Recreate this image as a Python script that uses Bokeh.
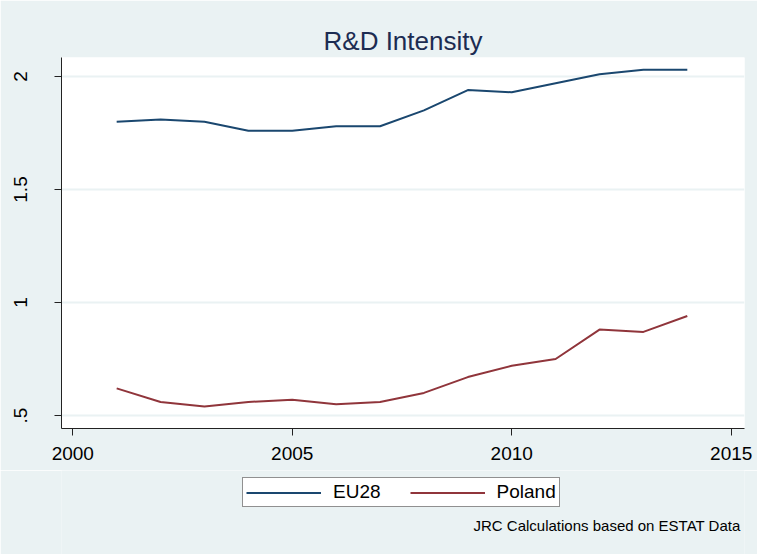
from bokeh.plotting import figure
from bokeh.models import Range1d, FixedTicker, Legend, LegendItem, Label
from bokeh.layouts import column
from bokeh.embed import file_html
from bokeh.resources import INLINE

years = [2001, 2002, 2003, 2004, 2005, 2006, 2007, 2008, 2009, 2010, 2011, 2012, 2013, 2014]
eu28 = [1.80, 1.81, 1.80, 1.76, 1.76, 1.78, 1.78, 1.85, 1.94, 1.93, 1.97, 2.01, 2.03, 2.03]
poland = [0.62, 0.56, 0.54, 0.56, 0.57, 0.55, 0.56, 0.60, 0.67, 0.72, 0.75, 0.88, 0.87, 0.94]
x_ticks = [2000, 2005, 2010, 2015]
y_ticks = [0.5, 1.0, 1.5, 2.0]
y_tick_labels = {0.5: ".5", 1.0: "1", 1.5: "1.5", 2.0: "2"}
series_names = ["EU28", "Poland"]
series_colors = ["#1A476F", "#90353B"]
title_text = "R&D Intensity"
note_text = "JRC Calculations based on ESTAT Data"

BG = "#EAF2F3"
FONT = "Liberation Sans"
W = 757
LEFT, RIGHT = 61, 13

# ---- main chart ----
p = figure(width=W, height=470, output_backend="svg", toolbar_location=None,
           x_range=Range1d(1999.743, 2015.303), y_range=Range1d(0.4425, 2.084),
           min_border_left=LEFT, min_border_right=RIGHT, min_border_top=57, min_border_bottom=42)

p.background_fill_color = "white"
p.border_fill_color = BG
p.outline_line_color = None

p.title.text = title_text
p.title.align = "center"
p.title.text_font = FONT
p.title.text_font_size = "26px"
p.title.text_font_style = "normal"
p.title.text_color = "#1C2C52"
p.title.standoff = 4

p.line(years, eu28, line_color=series_colors[0], line_width=2)
p.line(years, poland, line_color=series_colors[1], line_width=2)

for ax in (p.xaxis[0], p.yaxis[0]):
    ax.axis_line_color = "#222222"
    ax.major_tick_line_color = "#222222"
    ax.minor_tick_line_color = None
    ax.major_tick_in = 0
    ax.major_tick_out = 7
    ax.major_label_text_font = FONT
    ax.major_label_text_font_size = "19px"
    ax.major_label_text_color = "black"

p.xaxis.ticker = FixedTicker(ticks=x_ticks)
p.xaxis.major_label_standoff = 11
p.yaxis.ticker = FixedTicker(ticks=y_ticks)
p.yaxis.major_label_overrides = y_tick_labels
p.yaxis.major_label_orientation = "vertical"
p.yaxis.major_label_standoff = 27

p.xgrid.grid_line_color = None
p.ygrid.grid_line_color = BG
p.ygrid.grid_line_width = 2

# ---- legend + note strip ----
H2 = 84
q = figure(width=W, height=H2, output_backend="svg", toolbar_location=None,
           x_range=Range1d(LEFT, W - RIGHT), y_range=Range1d(0, H2),
           x_axis_type=None, y_axis_type=None,
           min_border_left=LEFT, min_border_right=RIGHT, min_border_top=0, min_border_bottom=0)
q.background_fill_color = BG
q.border_fill_color = BG
q.outline_line_color = None
q.xgrid.grid_line_color = None
q.ygrid.grid_line_color = None

# legend proxies: same series, lying outside this strip's ranges (clipped away)
r1 = q.line(years, eu28, line_color=series_colors[0], line_width=2)
r2 = q.line(years, poland, line_color=series_colors[1], line_width=2)

legend = Legend(items=[LegendItem(label=series_names[0], renderers=[r1]),
                       LegendItem(label=series_names[1], renderers=[r2])],
                orientation="horizontal", location=(242 - LEFT, 47))
legend.label_text_font = FONT
legend.label_text_font_size = "19px"
legend.label_text_color = "black"
legend.glyph_width = 75
legend.glyph_height = 19
legend.label_standoff = 12
legend.spacing = 29
legend.padding = 3
legend.border_line_color = "#222222"
legend.border_line_width = 1
legend.background_fill_color = "white"
legend.background_fill_alpha = 1
q.add_layout(legend, "center")

note = Label(x=473 - LEFT, y=29, x_units="screen", y_units="screen",
             text=note_text, text_align="left", text_baseline="alphabetic",
             text_font=FONT, text_font_size="15px", text_color="black")
q.add_layout(note)

layout = column(p, q, spacing=0)

open("out.html", "w").write(file_html(layout, INLINE))
